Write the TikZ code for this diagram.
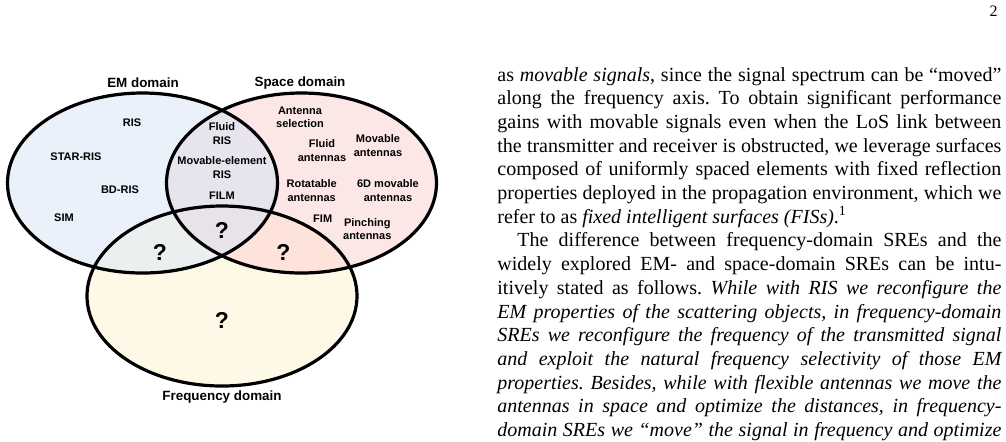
\documentclass[tikz,border=0pt]{standalone}
\usepackage{fontspec}
\setmainfont{Liberation Serif}
\newfontfamily\vennfont{Liberation Sans}
\definecolor{emfill}{HTML}{EAF1FB}
\definecolor{spfill}{HTML}{FCE7E7}
\definecolor{frfill}{HTML}{FEF8E6}
\definecolor{esfill}{HTML}{E7E4EE}
\definecolor{effill}{HTML}{EBEFF0}
\definecolor{sffill}{HTML}{FDE3DA}
\definecolor{esffill}{HTML}{E7E3E9}
\tikzset{
  vtitle/.style={font=\vennfont\bfseries\fontsize{6.7}{8}\selectfont, inner sep=0pt},
  vitem/.style={font=\vennfont\bfseries\fontsize{5.5}{6.8}\selectfont, align=center, inner sep=0pt},
  vq/.style={font=\vennfont\bfseries\fontsize{11.5}{12}\selectfont, inner sep=0pt},
  vline/.style={draw=black, line width=1.6pt},
  body/.style={font=\fontsize{10}{11.85}\selectfont\frenchspacing, text width=252pt, inner sep=0pt, align=justify, anchor=base west},
}
\begin{document}
\begin{tikzpicture}[x=0.5pt,y=-0.5pt]
\useasboundingbox (0,0) rectangle (1006,441);
\clip (0,0) rectangle (1006,441);
\coordinate (emc) at (142.5,183);
\coordinate (spc) at (301.5,183);
\coordinate (frc) at (222,296);
% base fills
\fill[emfill] (emc) ellipse [x radius=135, y radius=90];
\fill[spfill] (spc) ellipse [x radius=135, y radius=90];
\fill[frfill] (frc) ellipse [x radius=135, y radius=90];
\begin{scope}
  \clip (emc) ellipse [x radius=135, y radius=90];
  \fill[esfill] (spc) ellipse [x radius=135, y radius=90];
  \fill[effill] (frc) ellipse [x radius=135, y radius=90];
\end{scope}
\begin{scope}
  \clip (spc) ellipse [x radius=135, y radius=90];
  \fill[sffill] (frc) ellipse [x radius=135, y radius=90];
\end{scope}
\begin{scope}
  \clip (emc) ellipse [x radius=135, y radius=90];
  \clip (spc) ellipse [x radius=135, y radius=90];
  \fill[esffill] (frc) ellipse [x radius=135, y radius=90];
\end{scope}
% outlines
\draw[vline] (emc) ellipse [x radius=135, y radius=90];
\draw[vline] (spc) ellipse [x radius=135, y radius=90];
\draw[vline] (frc) ellipse [x radius=135, y radius=90];
% titles
\node[vtitle] (emt) at (143,83) {EM domain};
\node[vtitle, anchor=base] (spt) at (300,86.5) {Space domain};
\node[vtitle, anchor=base] (frt) at (222,400.5) {Frequency domain};
% EM items
\node[vitem] (ris) at (132,122.7) {RIS};
\node[vitem] (star) at (76,156.7) {STAR-RIS};
\node[vitem] (bdris) at (120,189.3) {BD-RIS};
\node[vitem] (sim) at (64,217.3) {SIM};
% EM & space
\node[vitem] (fris) at (222,133.8) {Fluid\\RIS};
\node[vitem] (meris) at (222,167.8) {Movable-element\\RIS};
\node[vitem] (film) at (222,196) {FILM};
% space items
\node[vitem] (antsel) at (300,117.3) {Antenna\\selection};
\node[vitem] (fant) at (322,150.8) {Fluid\\antennas};
\node[vitem] (mant) at (378,145.5) {Movable\\antennas};
\node[vitem] (rant) at (311.7,190.5) {Rotatable\\antennas};
\node[vitem] (sixd) at (388,190.5) {6D movable\\antennas};
\node[vitem] (fim) at (322.7,218.3) {FIM};
\node[vitem] (pant) at (367.3,229.2) {Pinching\\antennas};
% question marks
\node[vq] (q1) at (160,252.7) {?};
\node[vq] (q2) at (222,230.7) {?};
\node[vq] (q3) at (283.3,252.7) {?};
\node[vq] (q4) at (222,320) {?};
% page number
\node[anchor=base east, inner sep=0pt, font=\fontsize{8}{9}\selectfont] (pnum) at (998,16.7) {2};
% body text
\node[body] (txt) at (497,81) {%
as \emph{movable signals}, since the signal spectrum can be “moved”\linebreak
along the frequency axis. To obtain significant performance\linebreak
gains with movable signals even when the LoS link between\linebreak
the transmitter and receiver is obstructed, we leverage surfaces\linebreak
composed of uniformly spaced elements with fixed reflection\linebreak
properties deployed in the propagation environment, which we\linebreak
refer to as \emph{fixed intelligent surfaces (FISs)}.\textsuperscript{1}\par
\hspace*{10pt}The difference between frequency-domain SREs and the\linebreak
widely explored EM- and space-domain SREs can be intu-\linebreak
itively stated as follows. \emph{While with RIS we reconfigure the\linebreak
EM properties of the scattering objects, in frequency-domain\linebreak
SREs we reconfigure the frequency of the transmitted signal\linebreak
and exploit the natural frequency selectivity of those EM\linebreak
properties. Besides, while with flexible antennas we move the\linebreak
antennas in space and optimize the distances, in frequency-\linebreak
domain SREs we “move” the signal in frequency and optimize}{\parfillskip=0pt\par}};
\end{tikzpicture}
\end{document}
